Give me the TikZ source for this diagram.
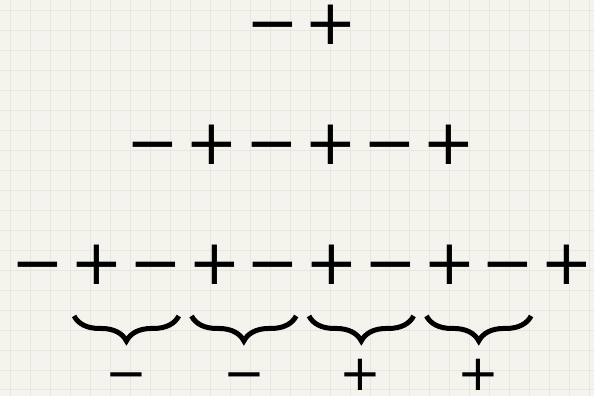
\documentclass[tikz,border=0pt]{standalone}
\usepackage{fontspec}
\setmainfont{DejaVu Sans}
\usetikzlibrary{decorations.pathreplacing,calc}
\definecolor{paper}{RGB}{244,243,237}
\definecolor{gridc}{RGB}{232,231,222}
\begin{document}
\begin{tikzpicture}[x=1pt,y=-1pt,
  sgn/.style={inner sep=0pt,font=\fontsize{63}{63}\selectfont,text height=33pt,text depth=0pt},
  res/.style={inner sep=0pt,font=\fontsize{50}{50}\selectfont,text height=26pt,text depth=0pt},
  br/.style={decorate,decoration={brace,mirror,amplitude=25pt},line width=5pt}]
\fill[paper] (0,0) rectangle (594,396);
\foreach \i in {0,20,...,580} \draw[gridc,line width=0.8pt] (\i+10,0) -- (\i+10,396);
\foreach \j in {0,20,...,380} \draw[gridc,line width=0.8pt] (0,\j+10) -- (594,\j+10);
\useasboundingbox (0,0) rectangle (594,396);
% row 1
\node[sgn] (a1) at (272.5,28) {−};
\node[sgn] (a2) at (331,28) {+};
% row 2
\node[sgn] (b1) at (153,148) {−};
\node[sgn] (b2) at (212,148) {+};
\node[sgn] (b3) at (272,148) {−};
\node[sgn] (b4) at (331,148) {+};
\node[sgn] (b5) at (390,148) {−};
\node[sgn] (b6) at (449,148) {+};
% row 3
\node[sgn] (c1) at (38,268) {−};
\node[sgn] (c2) at (96.8,268) {+};
\node[sgn] (c3) at (155.6,268) {−};
\node[sgn] (c4) at (214.4,268) {+};
\node[sgn] (c5) at (273.2,268) {−};
\node[sgn] (c6) at (332,268) {+};
\node[sgn] (c7) at (390.8,268) {−};
\node[sgn] (c8) at (449.6,268) {+};
\node[sgn] (c9) at (508.4,268) {−};
\node[sgn] (c10) at (567.2,268) {+};
% braces
\draw[br] ($(c2.center)+(-23,48)$) -- ($(c3.center)+(23,48)$);
\draw[br] ($(c4.center)+(-23,48)$) -- ($(c5.center)+(23,48)$);
\draw[br] ($(c6.center)+(-23,48)$) -- ($(c7.center)+(23,48)$);
\draw[br] ($(c8.center)+(-23,48)$) -- ($(c9.center)+(23,48)$);
% results
\node[res] (d1) at (126,378) {−};
\node[res] (d2) at (244,378) {−};
\node[res] (d3) at (361,378) {+};
\node[res] (d4) at (479,378) {+};
\end{tikzpicture}
\end{document}
